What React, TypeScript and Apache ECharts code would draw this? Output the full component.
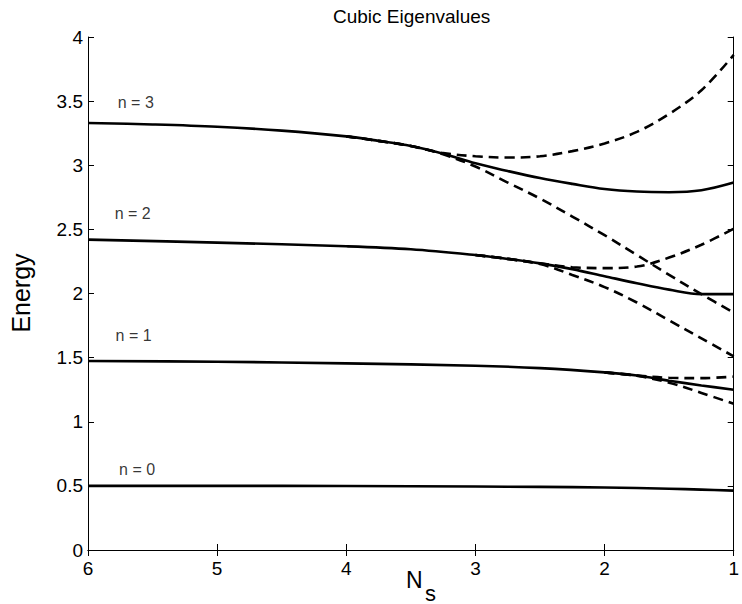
import React, { useEffect, useRef } from "react";
import * as echarts from "echarts";

// ---- Data ----
const titleText = "Cubic Eigenvalues";
const yAxisTitle = "Energy";
const xAxisMain = "N";
const xAxisSub = "s";

const xMin = 1;
const xMax = 6;
const yMin = 0;
const yMax = 4;

// n = 0 (solid)
const n0X = [6, 5, 4, 3, 2.5, 2, 1.5, 1.25, 1];
const n0Y = [0.5, 0.5, 0.499, 0.495, 0.492, 0.487, 0.478, 0.471, 0.463];

// n = 1
const n1X = [6, 5, 4, 3, 2.5, 2, 1.75, 1.5, 1.25, 1];
const n1Y = [1.474, 1.468, 1.455, 1.437, 1.418, 1.385, 1.36, 1.32, 1.283, 1.25];
const n1UpX = [2, 1.75, 1.5, 1.25, 1];
const n1UpY = [1.385, 1.36, 1.343, 1.34, 1.352];
const n1LoX = [2, 1.75, 1.5, 1.25, 1];
const n1LoY = [1.385, 1.358, 1.305, 1.225, 1.14];

// n = 2
const n2X = [6, 5, 4, 3.5, 3, 2.75, 2.5, 2.25, 2, 1.75, 1.5, 1.25, 1];
const n2Y = [2.42, 2.397, 2.368, 2.345, 2.3, 2.27, 2.235, 2.19, 2.135, 2.08, 2.03, 1.995, 1.995];
const n2UpX = [3, 2.75, 2.5, 2.25, 2, 1.75, 1.5, 1.25, 1];
const n2UpY = [2.3, 2.27, 2.235, 2.205, 2.198, 2.21, 2.28, 2.38, 2.505];
const n2LoX = [3, 2.75, 2.5, 2.25, 2, 1.75, 1.5, 1.25, 1];
const n2LoY = [2.3, 2.27, 2.23, 2.145, 2.05, 1.93, 1.79, 1.65, 1.51];

// n = 3
const n3X = [6, 5.5, 5, 4.5, 4, 3.75, 3.5, 3.25, 3, 2.75, 2.5, 2.25, 2, 1.75, 1.5, 1.25, 1];
const n3Y = [3.33, 3.318, 3.3, 3.27, 3.225, 3.19, 3.15, 3.09, 3.015, 2.955, 2.9, 2.855, 2.815, 2.795, 2.79, 2.805, 2.865];
const n3UpX = [4, 3.75, 3.5, 3.25, 3, 2.75, 2.5, 2.25, 2, 1.75, 1.5, 1.25, 1];
const n3UpY = [3.225, 3.19, 3.15, 3.095, 3.07, 3.06, 3.07, 3.11, 3.17, 3.26, 3.4, 3.585, 3.86];
const n3LoX = [4, 3.75, 3.5, 3.25, 3, 2.75, 2.5, 2.25, 2, 1.75, 1.5, 1.25, 1];
const n3LoY = [3.225, 3.19, 3.15, 3.085, 2.99, 2.865, 2.74, 2.6, 2.455, 2.3, 2.145, 1.995, 1.85];

// level labels
const levelLabels = ["n = 0", "n = 1", "n = 2", "n = 3"];
const levelLabelX = [5.62, 5.647, 5.654, 5.63];
const levelLabelY = [0.628, 1.669, 2.62, 3.488];

const zip = (xs: number[], ys: number[]) => xs.map((x, i) => [x, ys[i]]);

const FONT = "'Liberation Sans', Arial, Helvetica, sans-serif";

export default function App() {
  const ref = useRef<HTMLDivElement>(null);

  useEffect(() => {
    if (!ref.current) return;
    const chart = echarts.init(ref.current, undefined, { renderer: "svg" });

    const solid = [
      [n0X, n0Y],
      [n1X, n1Y],
      [n2X, n2Y],
      [n3X, n3Y],
    ].map(([xs, ys]) => ({
      type: "line",
      data: zip(xs, ys),
      showSymbol: false,
      symbol: "none",
      smooth: 0.35,
      lineStyle: { color: "#000", width: 2.6, type: "solid" },
      z: 3,
    }));

    const dashed = [
      [n1UpX, n1UpY],
      [n1LoX, n1LoY],
      [n2UpX, n2UpY],
      [n2LoX, n2LoY],
      [n3UpX, n3UpY],
      [n3LoX, n3LoY],
    ].map(([xs, ys]) => ({
      type: "line",
      data: zip(xs, ys),
      showSymbol: false,
      symbol: "none",
      smooth: 0.35,
      lineStyle: { color: "#000", width: 2.6, type: [10, 6] },
      z: 4,
    }));

    const labels = {
      type: "scatter",
      data: levelLabelX.map((x, i) => [x, levelLabelY[i]]),
      symbolSize: 0,
      silent: true,
      label: {
        show: true,
        position: "inside",
        formatter: (p: any) => levelLabels[p.dataIndex],
        color: "#000",
        fontSize: 16,
        fontFamily: FONT,
      },
      z: 5,
    };

    const axisLine = { show: true, lineStyle: { color: "#000", width: 1 } };
    const tick = { show: true, inside: true, length: 6, lineStyle: { color: "#000", width: 1 } };

    chart.setOption({
      animation: false,
      backgroundColor: "#fff",
      title: {
        text: titleText,
        left: 328,
        top: 2,
        textStyle: { fontFamily: FONT, fontSize: 19, fontWeight: "normal", color: "#000" },
      },
      grid: { left: 88, right: 3, top: 37, bottom: 54, containLabel: false },
      xAxis: [
        {
          type: "value",
          min: xMin,
          max: xMax,
          interval: 1,
          inverse: true,
          position: "bottom",
          axisLine,
          axisTick: tick,
          splitLine: { show: false },
          axisLabel: { color: "#000", fontSize: 19, fontFamily: FONT, margin: 9 },
        },
        {
          type: "value",
          min: xMin,
          max: xMax,
          interval: 1,
          inverse: true,
          position: "top",
          axisLine,
          axisTick: tick,
          splitLine: { show: false },
          axisLabel: { show: false },
        },
      ],
      yAxis: [
        {
          type: "value",
          min: yMin,
          max: yMax,
          interval: 0.5,
          position: "left",
          axisLine,
          axisTick: tick,
          splitLine: { show: false },
          axisLabel: { color: "#000", fontSize: 19, fontFamily: FONT, margin: 5 },
        },
        {
          type: "value",
          min: yMin,
          max: yMax,
          interval: 0.5,
          position: "right",
          axisLine,
          axisTick: tick,
          splitLine: { show: false },
          axisLabel: { show: false },
        },
      ],
      graphic: [
        {
          type: "text",
          x: 21,
          y: 293,
          rotation: Math.PI / 2,
          style: {
            text: yAxisTitle,
            fontSize: 25,
            fontFamily: FONT,
            fill: "#000",
            align: "center",
            verticalAlign: "middle",
          },
        },
        {
          type: "text",
          x: 406,
          y: 580,
          style: {
            text: xAxisMain,
            fontSize: 23,
            fontFamily: FONT,
            fill: "#000",
            align: "left",
            verticalAlign: "middle",
          },
        },
        {
          type: "text",
          x: 425,
          y: 593,
          style: {
            text: xAxisSub,
            fontSize: 22,
            fontFamily: FONT,
            fill: "#000",
            align: "left",
            verticalAlign: "middle",
          },
        },
      ],
      series: [...solid, ...dashed, labels],
    });

    return () => chart.dispose();
  }, []);

  return (
    <div
      ref={ref}
      style={{ position: "fixed", left: 0, top: 0, width: 742, height: 604, background: "#fff" }}
    />
  );
}
